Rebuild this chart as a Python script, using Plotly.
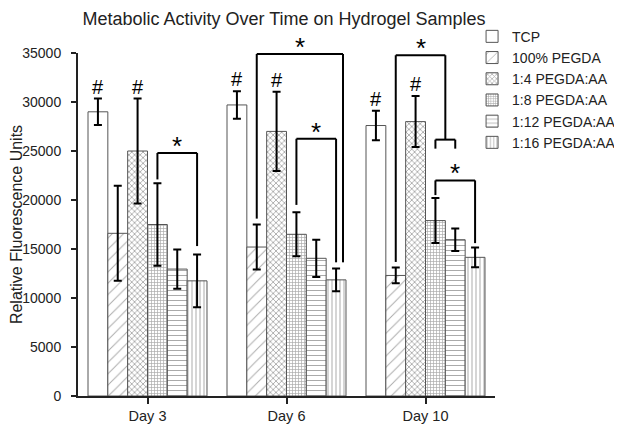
import plotly.graph_objects as go

categories = ["Day 3", "Day 6", "Day 10"]
series_names = ["TCP", "100% PEGDA", "1:4 PEGDA:AA", "1:8 PEGDA:AA", "1:12 PEGDA:AA", "1:16 PEGDA:AA"]

tcp = [29000, 29700, 27600]
pegda100 = [16600, 15200, 12300]
r1_4 = [25000, 27000, 28000]
r1_8 = [17500, 16500, 17900]
r1_12 = [12950, 14050, 15950]
r1_16 = [11750, 11850, 14150]

tcp_err = [1350, 1400, 1500]
pegda100_err = [4850, 2300, 800]
r1_4_err = [5350, 4050, 2600]
r1_8_err = [4200, 2250, 2300]
r1_12_err = [2000, 1900, 1150]
r1_16_err = [2700, 1150, 1000]

# pattern shapes per series
patterns = ["", "/", "x", "+", "-", "|"]
pattern_sizes = [8, 8, 4, 3, 5, 4]
pattern_solid = [0.2, 0.12, 0.4, 0.4, 0.2, 0.25]

# '#' marks: (category index, series index)
hash_marks = [(0, 0), (0, 2), (1, 0), (1, 2), (2, 0), (2, 2)]

# significance brackets: (category, left bar pos, right bar pos, top value, left leg bottom, right leg bottom, star)
brackets = [
    (0, 3, 5, 24800, 22100, 15300, True),
    (1, 3, 5, 26250, 19500, 13640, True),
    (1, 1, 5.35, 34900, 18100, 13640, True),
    (2, 1, 3.5, 34770, 13680, 26160, True),
    (2, 3, 4, 26160, 25240, 25240, False),
    (2, 3, 5, 22000, 20500, 15600, True),
]

values = [tcp, pegda100, r1_4, r1_8, r1_12, r1_16]
errors = [tcp_err, pegda100_err, r1_4_err, r1_8_err, r1_12_err, r1_16_err]

BARGAP = 0.144
NS = len(series_names)
bw = (1 - BARGAP) / NS

def bar_x(cat, pos):
    return cat + (pos - (NS - 1) / 2) * bw

fig = go.Figure()
for i, name in enumerate(series_names):
    fig.add_trace(go.Bar(
        x=list(range(len(categories))), y=values[i], name=name,
        marker=dict(color="white",
                    line=dict(color="#555555", width=1),
                    pattern=dict(shape=patterns[i], fgcolor="#555555", bgcolor="white",
                                 size=pattern_sizes[i], solidity=pattern_solid[i])),
        error_y=dict(type="data", array=errors[i], visible=True, color="black",
                     thickness=2, width=4),
    ))

shapes = []
annotations = []
for (c, l, r, top, lb, rb, star) in brackets:
    xl, xr = bar_x(c, l), bar_x(c, r)
    for (x0, y0, x1, y1) in [(xl, lb, xl, top), (xl, top, xr, top), (xr, top, xr, rb)]:
        shapes.append(dict(type="line", xref="x", yref="y", x0=x0, y0=y0, x1=x1, y1=y1,
                           line=dict(color="black", width=2)))
    if star:
        annotations.append(dict(x=(xl + xr) / 2, y=top, xref="x", yref="y", text="*",
                                showarrow=False, yanchor="bottom", yshift=-10,
                                font=dict(size=26, color="black", family="Liberation Sans")))

for (c, s) in hash_marks:
    annotations.append(dict(x=bar_x(c, s), y=values[s][c] + errors[s][c], xref="x", yref="y",
                            text="#", showarrow=False, yanchor="bottom", yshift=-1,
                            font=dict(size=20, color="black", family="Liberation Sans")))

# the page body adds an 8px margin, so the figure is sized to fill the rest of the window
fig.update_layout(
    width=614, height=419,
    margin=dict(l=70, r=127, t=45, b=31, autoexpand=False),
    paper_bgcolor="white", plot_bgcolor="white",
    barmode="group", bargap=BARGAP, bargroupgap=0,
    font=dict(family="Liberation Sans, Arial, sans-serif", size=14, color="#222"),
    title=dict(text="Metabolic Activity Over Time on Hydrogel Samples", x=0.4495, xanchor="center",
               y=0.974, yanchor="middle", font=dict(size=18, color="#222")),
    showlegend=True,
    legend=dict(x=0.945, xanchor="left", y=1.094, yanchor="top", bgcolor="rgba(0,0,0,0)",
                font=dict(size=14, color="#222"), tracegroupgap=0, itemwidth=30),
    shapes=shapes, annotations=annotations,
)
fig.update_xaxes(tickmode="array", tickvals=list(range(len(categories))), ticktext=categories,
                 range=[-0.5, 2.5], showline=True, linecolor="#222", linewidth=2,
                 ticks="outside", ticklen=6, tickwidth=2, tickcolor="#222",
                 tickfont=dict(size=14.5),
                 showgrid=False, zeroline=False)
fig.update_yaxes(range=[0, 35000], dtick=5000, showline=True, linecolor="#222", linewidth=2,
                 ticks="outside", ticklen=5, tickwidth=2, tickcolor="#222",
                 tickfont=dict(size=14), ticklabelstandoff=7,
                 showgrid=False, zeroline=False, tickformat="d",
                 title=dict(text="Relative Fluorescence Units", font=dict(size=16, color="#222"),
                            standoff=0))

fig.write_html("out.html")
